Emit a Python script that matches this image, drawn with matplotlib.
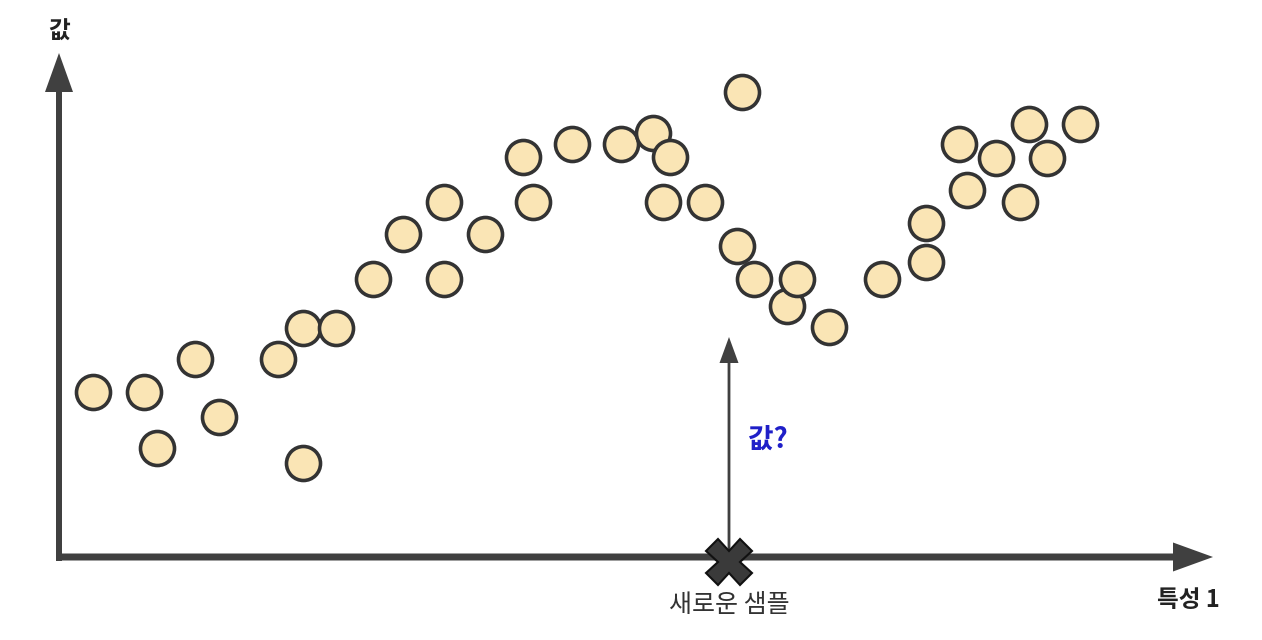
import matplotlib
matplotlib.use("Agg")
import matplotlib.pyplot as plt

plt.rcParams['font.family'] = ['Noto Sans CJK KR', 'DejaVu Sans']

# Data (feature 1, value)
feature1 = [0.34, 0.85, 0.98, 1.36, 1.60, 2.19, 2.44, 2.44, 2.77, 3.14,
            3.44, 3.85, 3.85, 4.26, 4.64, 4.74, 5.13, 5.62, 5.94, 6.11,
            6.04, 6.46, 6.83, 6.78, 6.95, 7.28, 7.38, 7.70, 8.23, 8.67,
            8.67, 9.00, 9.08, 9.37, 9.61, 9.70, 9.88, 10.21]
values = [1.65, 1.65, 1.09, 1.98, 1.40, 1.98, 0.94, 2.29, 2.29, 2.78,
          3.23, 3.55, 2.78, 3.23, 4.00, 3.55, 4.13, 4.13, 4.24, 4.00,
          3.55, 3.55, 4.65, 3.11, 2.78, 2.51, 2.78, 2.30, 2.78, 3.34,
          2.95, 4.13, 3.67, 3.99, 3.55, 4.33, 3.99, 4.33]
new_sample_x = 6.70
arrow_top = 2.20

x_label = "특성 1"
y_label = "값"
sample_label = "새로운 샘플"
question_label = "값?"

fig = plt.figure(figsize=(12.62, 6.40), dpi=100)
ax = fig.add_axes([0, 0, 1, 1])
ax.set_xlim(-0.59, 12.03)
ax.set_ylim(-0.83, 5.57)
ax.axis('off')

axis_color = '#404040'
# axes arrows
ax.arrow(-0.03, 0.0, 11.57, 0.0, width=0.07, head_width=0.29, head_length=0.40,
         length_includes_head=True, color=axis_color, lw=0, zorder=2)
ax.arrow(0.0, -0.04, 0.0, 5.08, width=0.06, head_width=0.28, head_length=0.39,
         length_includes_head=True, color=axis_color, lw=0, zorder=2)

# points
ax.scatter(feature1, values, s=24.5**2, facecolor='#FAE5B5', edgecolor='#333333',
           linewidths=2.6, zorder=3)

# new sample arrow
ax.arrow(new_sample_x, -0.05, 0.0, arrow_top + 0.05, width=0.028, head_width=0.19,
         head_length=0.26, length_includes_head=True, color=axis_color, lw=0, zorder=2)
ax.plot([new_sample_x], [-0.05], marker='X', markersize=33, markerfacecolor='#3a3a3a',
        markeredgecolor='#111111', markeredgewidth=1.5, zorder=4)

ax.text(new_sample_x, -0.48, sample_label, ha='center', va='center', fontsize=18,
        color='#333333')
ax.text(7.09, 1.17, question_label, ha='center', va='center', fontsize=20,
        fontweight='bold', color='#1f1fc8')
ax.text(11.29, -0.43, x_label, ha='center', va='center', fontsize=17,
        fontweight='bold', color='#222222')
ax.text(0.0, 5.25, y_label, ha='center', va='center', fontsize=17,
        fontweight='bold', color='#222222')

fig.savefig('out.png', dpi=100, facecolor='white')
